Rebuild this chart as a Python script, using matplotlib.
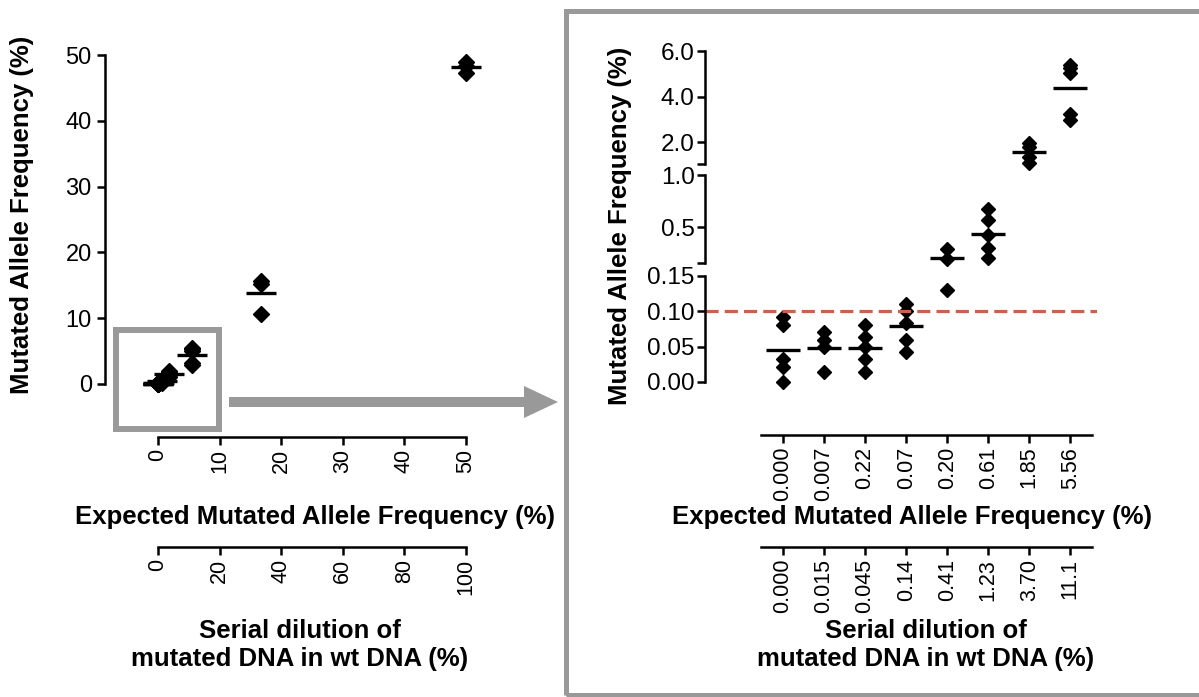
import matplotlib
matplotlib.use("Agg")
import matplotlib.pyplot as plt
from matplotlib.patches import Rectangle, Polygon

plt.rcParams['font.family'] = ['Liberation Sans', 'DejaVu Sans']

# Data
expected_pct = [0.0, 0.007, 0.022, 0.07, 0.20, 0.61, 1.85, 5.56, 16.67, 50.0]
expected_labels = ["0.000", "0.007", "0.22", "0.07", "0.20", "0.61", "1.85", "5.56"]
dilution_labels = ["0.000", "0.015", "0.045", "0.14", "0.41", "1.23", "3.70", "11.1"]
measured_pct = [
    [0.092, 0.080, 0.033, 0.021, 0.000],
    [0.071, 0.060, 0.050, 0.014],
    [0.080, 0.064, 0.050, 0.033, 0.014],
    [0.111, 0.100, 0.083, 0.059, 0.043],
    [0.290, 0.190, 0.130],
    [0.675, 0.564, 0.427, 0.300, 0.204],
    [1.95, 1.80, 1.35, 1.10],
    [5.40, 5.25, 5.05, 3.25, 2.95],
    [15.6, 15.2, 10.6],
    [48.9, 48.3, 47.3],
]
left_yticks = [0, 10, 20, 30, 40, 50]
left_xticks = [0, 10, 20, 30, 40, 50]
left_dilution_ticks = [0, 20, 40, 60, 80, 100]
detection_limit = 0.10

W, H = 1199, 697
GRAY = "#999999"
RED = "#E8553A"
LW = 1.8


def rect(x0, y0, x1, y1):
    return [x0 / W, 1 - y1 / H, (x1 - x0) / W, (y1 - y0) / H]


def lim(p0, p1, v0, v1, e0, e1):
    s = (v1 - v0) / (p1 - p0)
    return (v0 + (e0 - p0) * s, v0 + (e1 - p0) * s)


def inch(x, y):
    return (x / 100.0, (H - y) / 100.0)


def style(ax, left=True, bottom=False):
    for s in ["top", "right"]:
        ax.spines[s].set_visible(False)
    ax.spines["left"].set_visible(left)
    ax.spines["bottom"].set_visible(bottom)
    for s in ["left", "bottom"]:
        ax.spines[s].set_linewidth(LW)
    ax.tick_params(width=LW, length=5.5, labelsize=17)
    ax.patch.set_alpha(0)


def xaxis_only(fig, y, x0, x1, xl, bounds, ticks, labels):
    a = fig.add_axes(rect(x0, y - 1, x1, y))
    style(a, left=False, bottom=True)
    a.set_xlim(xl)
    a.set_yticks([])
    a.spines["bottom"].set_bounds(*bounds)
    a.set_xticks(ticks)
    a.set_xticklabels(labels, rotation=90, fontsize=15.5)
    a.tick_params(axis="x", pad=3)
    return a


fig = plt.figure(figsize=(W / 100, H / 100), dpi=100)

# ---- left panel
ax = fig.add_axes(rect(105, 40, 480, 437))
style(ax, left=True, bottom=True)
ax.set_xlim(lim(158, 466, 0, 50, 105, 480))
ax.set_ylim(lim(384, 55, 0, 50, 437, 40))
ax.spines["left"].set_bounds(0, 50)
ax.spines["bottom"].set_bounds(0, 50)
ax.set_yticks(left_yticks)
ax.set_xticks(left_xticks)
ax.set_xticklabels([str(t) for t in left_xticks], rotation=90, fontsize=15.5)
ax.tick_params(axis="y", pad=4)
ax.tick_params(axis="x", pad=3)
for x, vals in zip(expected_pct, measured_pct):
    ax.plot([x] * len(vals), vals, "D", color="black", ms=8.5, clip_on=False)
    ax.plot([x], [sum(vals) / len(vals)], "_", color="black", ms=21, mew=2.4,
            clip_on=False)

xl = ax.get_xlim()
xaxis_only(fig, 547, 105, 480, (2 * xl[0], 2 * xl[1]), (0, 100),
           left_dilution_ticks, [str(t) for t in left_dilution_ticks])

fig.text(22 / W, 1 - 215 / H, "Mutated Allele Frequency (%)", rotation=90,
         ha="center", va="center", fontsize=18.5, fontweight="bold")
fig.text(315 / W, 1 - 517 / H, "Expected Mutated Allele Frequency (%)",
         ha="center", va="center", fontsize=18.5, fontweight="bold")
fig.text(300 / W, 1 - 645 / H, "Serial dilution of\nmutated DNA in wt DNA (%)",
         ha="center", va="center", fontsize=18.5, fontweight="bold",
         linespacing=1.2)

# zoom box and arrow
fig.patches.append(Rectangle(inch(116, 429), 103 / 100, 99 / 100, fill=False,
                             ec=GRAY, lw=4.3, transform=fig.dpi_scale_trans))
arrow = [inch(229, 397), inch(524, 397), inch(524, 386), inch(558, 402),
         inch(524, 418), inch(524, 407), inch(229, 407)]
fig.patches.append(Polygon(arrow, closed=True, fc=GRAY, ec="none",
                           transform=fig.dpi_scale_trans))
fig.patches.append(Rectangle(inch(565.5, 694.5), 640 / 100, 684 / 100,
                             fill=False, ec=GRAY, lw=3.6,
                             transform=fig.dpi_scale_trans))

# ---- right panel (broken y axis)
xr = lim(783, 783 + 41.05 * 7, 0, 7, 705, 1097)
segments = [
    ((705, 51, 1097, 164), (1.04, 6.0), [1.04, 2.0, 4.0, 6.0], ["", "2.0", "4.0", "6.0"]),
    ((705, 175, 1097, 263), (0.155, 1.0), [0.155, 0.5, 1.0], ["", "0.5", "1.0"]),
    ((705, 276, 1097, 382), (0.0, 0.15), [0.0, 0.05, 0.10, 0.15],
     ["0.00", "0.05", "0.10", "0.15"]),
]
for box, ylim, ticks, labels in segments:
    a = fig.add_axes(rect(*box))
    style(a, left=True, bottom=False)
    a.set_xlim(xr)
    a.set_ylim(ylim)
    a.set_xticks([])
    a.set_yticks(ticks)
    a.set_yticklabels(labels)
    a.tick_params(axis="y", pad=2, labelsize=17.5)
    for i, vals in enumerate(measured_pct[:8]):
        v = [y for y in vals if ylim[0] <= y <= ylim[1]]
        if v:
            a.plot([i] * len(v), v, "D", color="black", ms=7.6, clip_on=False)
        m = sum(vals) / len(vals)
        if ylim[0] <= m <= ylim[1]:
            a.plot([i], [m], "_", color="black", ms=25, mew=2.4, clip_on=False)
    if ylim[0] <= detection_limit <= ylim[1]:
        a.axhline(detection_limit, color=RED, lw=2.2, ls=(0, (4.3, 2.0)))

bounds = lim(783, 783 + 41.05 * 7, 0, 7, 761, 1092)
xaxis_only(fig, 435, 705, 1097, xr, bounds, list(range(8)), expected_labels)
xaxis_only(fig, 547, 705, 1097, xr, bounds, list(range(8)), dilution_labels)

fig.text(620 / W, 1 - 226 / H, "Mutated Allele Frequency (%)", rotation=90,
         ha="center", va="center", fontsize=18.5, fontweight="bold")
fig.text(912 / W, 1 - 517 / H, "Expected Mutated Allele Frequency (%)",
         ha="center", va="center", fontsize=18.5, fontweight="bold")
fig.text(926 / W, 1 - 645 / H, "Serial dilution of\nmutated DNA in wt DNA (%)",
         ha="center", va="center", fontsize=18.5, fontweight="bold",
         linespacing=1.2)

fig.savefig("out.png", dpi=100)
